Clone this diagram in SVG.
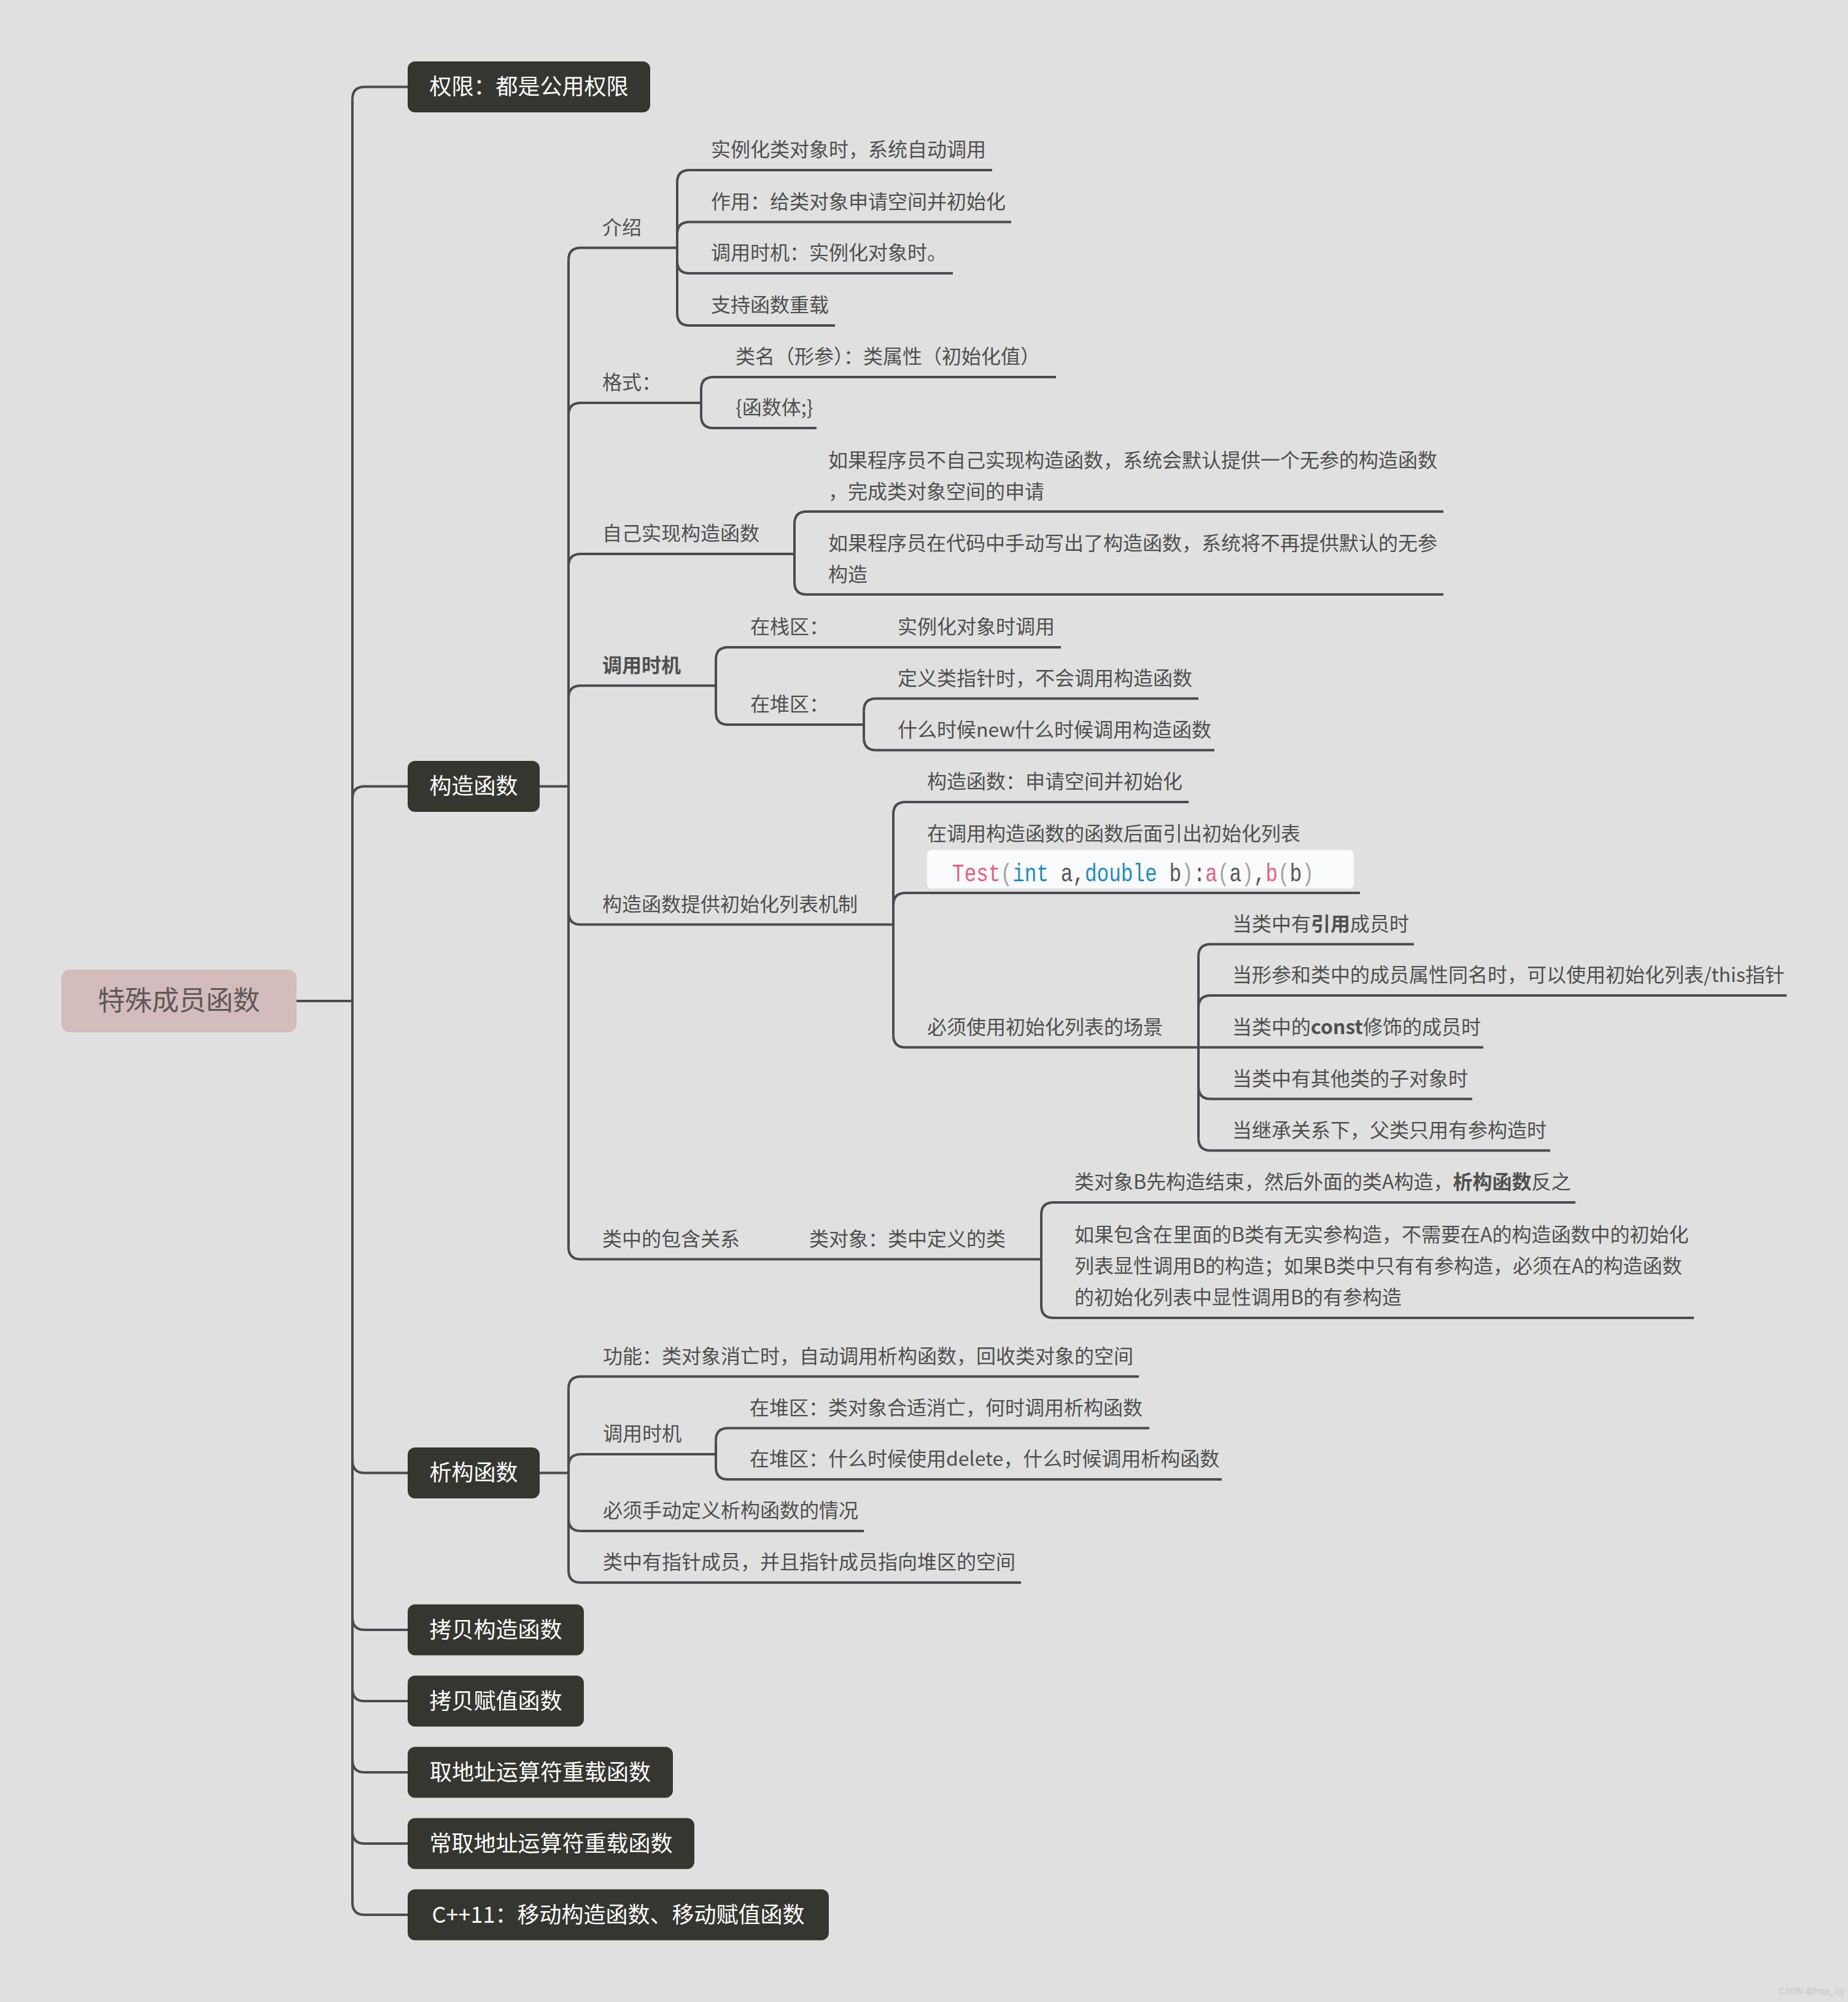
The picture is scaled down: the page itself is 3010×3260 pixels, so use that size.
<svg xmlns="http://www.w3.org/2000/svg" width="3010" height="3260" viewBox="0 0 3010 3260">
<style>
.ln{fill:none;stroke:#4a4a50;stroke-width:4;stroke-linecap:butt;stroke-linejoin:round}
.t{font-family:"Noto Sans CJK SC","Noto Sans",sans-serif;font-size:32px;fill:#4f4f4f}
.b{font-weight:bold}
.box{fill:#363630}
.bt{font-family:"Noto Sans CJK SC","Noto Sans",sans-serif;font-size:36px;fill:#ffffff;text-anchor:middle}
.code{font-family:"Liberation Mono","DejaVu Sans Mono",monospace;font-size:40px}
</style>
<rect x="0" y="0" width="3010" height="3260" fill="#e0e0e0"/>

<g id="connectors">
  <path class="ln" d="M483,1630 L574,1630"/>
  <path class="ln" d="M574,161.5 L574,3098"/>
  <path class="ln" d="M574,161.5 Q574,141.5 594,141.5 L665,141.5"/>
  <path class="ln" d="M574,1300.5 Q574,1280.5 594,1280.5 L665,1280.5"/>
  <path class="ln" d="M574,2378.5 Q574,2398.5 594,2398.5 L665,2398.5"/>
  <path class="ln" d="M574,2634 Q574,2654 594,2654 L665,2654"/>
  <path class="ln" d="M574,2750 Q574,2770 594,2770 L665,2770"/>
  <path class="ln" d="M574,2866 Q574,2886 594,2886 L665,2886"/>
  <path class="ln" d="M574,2982 Q574,3002 594,3002 L665,3002"/>
  <path class="ln" d="M574,3098 Q574,3118 594,3118 L665,3118"/>

  <path class="ln" d="M879,1280.5 L926,1280.5"/>
  <path class="ln" d="M926,423.5 L926,2030.5"/>
  <path class="ln" d="M926,423.5 Q926,403.5 946,403.5 L1103,403.5"/>
  <path class="ln" d="M926,676 Q926,656 946,656 L1142,656"/>
  <path class="ln" d="M926,922 Q926,902 946,902 L1294,902"/>
  <path class="ln" d="M926,1136.5 Q926,1116.5 946,1116.5 L1166,1116.5"/>
  <path class="ln" d="M926,1485.5 Q926,1505.5 946,1505.5 L1455,1505.5"/>
  <path class="ln" d="M926,2030.5 Q926,2050.5 946,2050.5 L1696,2050.5"/>

  <path class="ln" d="M1103,297 L1103,510"/>
  <path class="ln" d="M1103,297 Q1103,277 1123,277 L1616,277"/>
  <path class="ln" d="M1103,381.5 Q1103,361.5 1123,361.5 L1647,361.5"/>
  <path class="ln" d="M1103,425 Q1103,445 1123,445 L1552,445"/>
  <path class="ln" d="M1103,510 Q1103,530 1123,530 L1360,530"/>

  <path class="ln" d="M1142,634 L1142,677"/>
  <path class="ln" d="M1142,634 Q1142,614 1162,614 L1720,614"/>
  <path class="ln" d="M1142,677 Q1142,697 1162,697 L1330,697"/>

  <path class="ln" d="M1294,853 L1294,948"/>
  <path class="ln" d="M1294,853 Q1294,833 1314,833 L2351,833"/>
  <path class="ln" d="M1294,948 Q1294,968 1314,968 L2351,968"/>

  <path class="ln" d="M1166,1074 L1166,1160"/>
  <path class="ln" d="M1166,1074 Q1166,1054 1186,1054 L1728,1054"/>
  <path class="ln" d="M1166,1160 Q1166,1180 1186,1180 L1407,1180"/>
  <path class="ln" d="M1407,1157.5 L1407,1201.5"/>
  <path class="ln" d="M1407,1157.5 Q1407,1137.5 1427,1137.5 L1952,1137.5"/>
  <path class="ln" d="M1407,1201.5 Q1407,1221.5 1427,1221.5 L1978,1221.5"/>

  <path class="ln" d="M1455,1326 L1455,1685.5"/>
  <path class="ln" d="M1455,1326 Q1455,1306 1475,1306 L1936,1306"/>
  <path class="ln" d="M1455,1474 Q1455,1454 1475,1454 L2215,1454"/>
  <path class="ln" d="M1455,1685.5 Q1455,1705.5 1475,1705.5 L1952,1705.5"/>

  <path class="ln" d="M1952,1557.5 L1952,1853.5"/>
  <path class="ln" d="M1952,1557.5 Q1952,1537.5 1972,1537.5 L2303,1537.5"/>
  <path class="ln" d="M1952,1641 Q1952,1621 1972,1621 L2910,1621"/>
  <path class="ln" d="M1952,1705.5 L2416,1705.5"/>
  <path class="ln" d="M1952,1769.5 Q1952,1789.5 1972,1789.5 L2398,1789.5"/>
  <path class="ln" d="M1952,1853.5 Q1952,1873.5 1972,1873.5 L2525,1873.5"/>

  <path class="ln" d="M1696,1978 L1696,2126"/>
  <path class="ln" d="M1696,1978 Q1696,1958 1716,1958 L2566,1958"/>
  <path class="ln" d="M1696,2126 Q1696,2146 1716,2146 L2759,2146"/>

  <path class="ln" d="M879,2398.5 L926,2398.5"/>
  <path class="ln" d="M926,2261.5 L926,2557"/>
  <path class="ln" d="M926,2261.5 Q926,2241.5 946,2241.5 L1855,2241.5"/>
  <path class="ln" d="M926,2388 Q926,2368 946,2368 L1166,2368"/>
  <path class="ln" d="M926,2473 Q926,2493 946,2493 L1407,2493"/>
  <path class="ln" d="M926,2557 Q926,2577 946,2577 L1663,2577"/>
  <path class="ln" d="M1166,2345.5 L1166,2389"/>
  <path class="ln" d="M1166,2345.5 Q1166,2325.5 1186,2325.5 L1872,2325.5"/>
  <path class="ln" d="M1166,2389 Q1166,2409 1186,2409 L1990,2409"/>
</g>

<g id="root">
  <rect x="100" y="1579" width="383" height="102" rx="14" fill="#d3bcbb"/>
  <text x="291.5" y="1645" font-family="Noto Sans CJK SC, sans-serif" font-size="44" fill="#5e5858" text-anchor="middle">特殊成员函数</text>
</g>

<g id="n-quanxian"><rect class="box" x="664" y="100" width="395" height="83" rx="12"/><text class="bt" x="861.5" y="154">权限：都是公用权限</text></g>
<g id="n-gouzao"><rect class="box" x="664" y="1239" width="215" height="83" rx="12"/><text class="bt" x="771.5" y="1293">构造函数</text></g>
<g id="n-xigou"><rect class="box" x="664" y="2357" width="215" height="83" rx="12"/><text class="bt" x="771.5" y="2411">析构函数</text></g>
<g id="n-kaobeigouzao"><rect class="box" x="664" y="2612.5" width="287" height="83" rx="12"/><text class="bt" x="807.5" y="2667">拷贝构造函数</text></g>
<g id="n-kaobeifuzhi"><rect class="box" x="664" y="2728.5" width="287" height="83" rx="12"/><text class="bt" x="807.5" y="2783">拷贝赋值函数</text></g>
<g id="n-qudizhi"><rect class="box" x="664" y="2844.5" width="432" height="83" rx="12"/><text class="bt" x="880" y="2899">取地址运算符重载函数</text></g>
<g id="n-changqudizhi"><rect class="box" x="664" y="2960.5" width="467" height="83" rx="12"/><text class="bt" x="897.5" y="3015">常取地址运算符重载函数</text></g>
<g id="n-cpp11"><rect class="box" x="664" y="3076.5" width="686" height="83" rx="12"/><text class="bt" x="1007" y="3131">C++11：移动构造函数、移动赋值函数</text></g>

<g id="gouzao-children">
  <g id="jieshao"><text class="t" x="981" y="381.5">介绍</text></g>
  <g id="j1"><text class="t" x="1158" y="255">实例化类对象时，系统自动调用</text></g>
  <g id="j2"><text class="t" x="1158" y="339.5">作用：给类对象申请空间并初始化</text></g>
  <g id="j3"><text class="t" x="1158" y="423">调用时机：实例化对象时。</text></g>
  <g id="j4"><text class="t" x="1158" y="508">支持函数重载</text></g>

  <g id="geshi"><text class="t" x="981" y="634">格式：</text></g>
  <g id="g1"><text class="t" x="1198" y="592">类名（形参）：类属性（初始化值）</text></g>
  <g id="g2"><text class="t" x="1198" y="675">{函数体;}</text></g>

  <g id="ziji"><text class="t" x="981" y="880">自己实现构造函数</text></g>
  <g id="z1"><text class="t" x="1349" y="761">如果程序员不自己实现构造函数，系统会默认提供一个无参的构造函数</text><text class="t" x="1349" y="812">，完成类对象空间的申请</text></g>
  <g id="z2"><text class="t" x="1349" y="896">如果程序员在代码中手动写出了构造函数，系统将不再提供默认的无参</text><text class="t" x="1349" y="947">构造</text></g>

  <g id="diaoyong"><text class="t b" x="981" y="1094.5">调用时机</text></g>
  <g id="zhan"><text class="t" x="1222" y="1032">在栈区：</text></g>
  <g id="zhan1"><text class="t" x="1462" y="1032">实例化对象时调用</text></g>
  <g id="dui"><text class="t" x="1222" y="1158">在堆区：</text></g>
  <g id="dui1"><text class="t" x="1462" y="1115.5">定义类指针时，不会调用构造函数</text></g>
  <g id="dui2"><text class="t" x="1462" y="1199.5">什么时候new什么时候调用构造函数</text></g>

  <g id="chushihua"><text class="t" x="981" y="1483.5">构造函数提供初始化列表机制</text></g>
  <g id="c1"><text class="t" x="1510" y="1284">构造函数：申请空间并初始化</text></g>
  <g id="c2">
    <text class="t" x="1510" y="1368.5">在调用构造函数的函数后面引出初始化列表</text>
    <rect x="1510" y="1384" width="695" height="63" rx="8" fill="#fafbfc"/>
    <text class="code" transform="translate(1551,1435) scale(0.818,1)" x="0" y="0"><tspan fill="#e3607e">Test</tspan><tspan fill="#a3a3a3">(</tspan><tspan fill="#1d8bbf">int</tspan><tspan fill="#555555"> a,</tspan><tspan fill="#1d8bbf">double</tspan><tspan fill="#555555"> b</tspan><tspan fill="#a3a3a3">)</tspan><tspan fill="#6a4a3a">:</tspan><tspan fill="#e3607e">a</tspan><tspan fill="#a3a3a3">(</tspan><tspan fill="#555555">a</tspan><tspan fill="#a3a3a3">)</tspan><tspan fill="#555555">,</tspan><tspan fill="#e3607e">b</tspan><tspan fill="#a3a3a3">(</tspan><tspan fill="#555555">b</tspan><tspan fill="#a3a3a3">)</tspan></text>
  </g>
  <g id="c3"><text class="t" x="1510" y="1683.5">必须使用初始化列表的场景</text></g>
  <g id="s1"><text class="t" x="2007" y="1515.5">当类中有<tspan class="b">引用</tspan>成员时</text></g>
  <g id="s2"><text class="t" x="2007" y="1599">当形参和类中的成员属性同名时，可以使用初始化列表/this指针</text></g>
  <g id="s3"><text class="t" x="2007" y="1684">当类中的<tspan class="b">const</tspan>修饰的成员时</text></g>
  <g id="s4"><text class="t" x="2007" y="1767.5">当类中有其他类的子对象时</text></g>
  <g id="s5"><text class="t" x="2007" y="1851.5">当继承关系下，父类只用有参构造时</text></g>

  <g id="baohan"><text class="t" x="981" y="2028.5">类中的包含关系</text></g>
  <g id="leiduixiang"><text class="t" x="1318" y="2028.5">类对象：类中定义的类</text></g>
  <g id="b1"><text class="t" x="1750" y="1936">类对象B先构造结束，然后外面的类A构造，<tspan class="b">析构函数</tspan>反之</text></g>
  <g id="b2"><text class="t" x="1750" y="2022">如果包含在里面的B类有无实参构造，不需要在A的构造函数中的初始化</text><text class="t" x="1750" y="2073">列表显性调用B的构造；如果B类中只有有参构造，必须在A的构造函数</text><text class="t" x="1750" y="2124">的初始化列表中显性调用B的有参构造</text></g>
</g>

<g id="xigou-children">
  <g id="x1"><text class="t" x="982" y="2219.5">功能：类对象消亡时，自动调用析构函数，回收类对象的空间</text></g>
  <g id="x2"><text class="t" x="982" y="2346">调用时机</text></g>
  <g id="x21"><text class="t" x="1221" y="2303.5">在堆区：类对象合适消亡，何时调用析构函数</text></g>
  <g id="x22"><text class="t" x="1221" y="2387">在堆区：什么时候使用delete，什么时候调用析构函数</text></g>
  <g id="x3"><text class="t" x="982" y="2471">必须手动定义析构函数的情况</text></g>
  <g id="x4"><text class="t" x="982" y="2555">类中有指针成员，并且指针成员指向堆区的空间</text></g>
</g>

<text x="2897" y="3247" font-family="Liberation Sans, sans-serif" font-size="14" fill="#c4c4c4">CSDN @hqyj_zjy</text>
</svg>
